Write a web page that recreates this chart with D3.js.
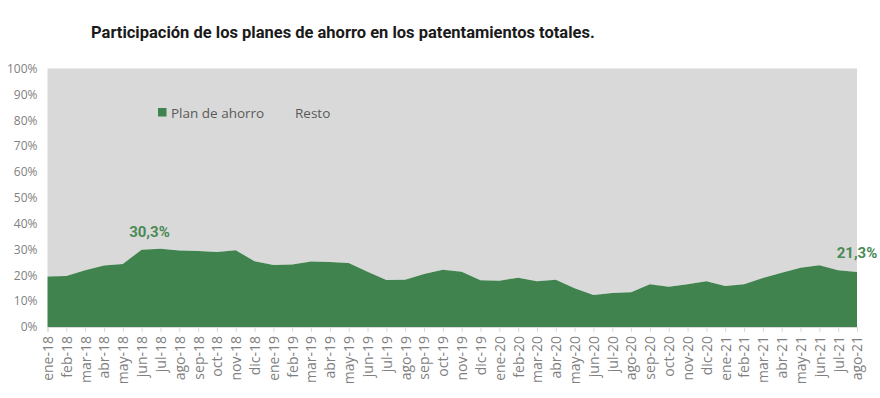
<!DOCTYPE html>
<html>
<head>
<meta charset="utf-8">
<script src="https://cdn.jsdelivr.net/npm/d3@7"></script>
<style>
  html, body { margin: 0; padding: 0; background: #ffffff; }
  svg { display: block; }
</style>
</head>
<body>
<svg id="chart" width="880" height="398"></svg>
<script>
const title = "Participación de los planes de ahorro en los patentamientos totales.";
const months = ["ene-18","feb-18","mar-18","abr-18","may-18","jun-18","jul-18","ago-18","sep-18","oct-18","nov-18","dic-18",
  "ene-19","feb-19","mar-19","abr-19","may-19","jun-19","jul-19","ago-19","sep-19","oct-19","nov-19","dic-19",
  "ene-20","feb-20","mar-20","abr-20","may-20","jun-20","jul-20","ago-20","sep-20","oct-20","nov-20","dic-20",
  "ene-21","feb-21","mar-21","abr-21","may-21","jun-21","jul-21","ago-21"];
const planAhorro = [19.5, 19.7, 22.0, 23.8, 24.4, 29.9, 30.3, 29.6, 29.4, 29.0, 29.7, 25.4,
  24.0, 24.2, 25.3, 25.1, 24.8, 21.4, 18.2, 18.3, 20.5, 22.1, 21.4, 18.1,
  17.9, 19.1, 17.7, 18.3, 15.0, 12.4, 13.2, 13.4, 16.5, 15.6, 16.5, 17.7,
  15.9, 16.5, 19.0, 21.0, 22.9, 23.9, 22.0, 21.3];
const seriesNames = ["Plan de ahorro", "Resto"];
const yTicks = [0, 10, 20, 30, 40, 50, 60, 70, 80, 90, 100];
const annotations = [
  { month: "jul-18", text: "30,3%", dx: -11, dy: -12 },
  { month: "ago-21", text: "21,3%", dx: 0, dy: -14 }
];

const green = "#41834f";
const grey = "#d9d9d9";
const svg = d3.select("#chart");
const m = { left: 47.5, right: 857, top: 68.5, bottom: 327 };

const x = d3.scalePoint().domain(months).range([m.left, m.right]);
const y = d3.scaleLinear().domain([0, 100]).range([m.bottom, m.top]);

// Title
svg.append("text")
  .attr("x", 91).attr("y", 38)
  .attr("font-family", "Roboto, sans-serif")
  .attr("font-weight", "bold")
  .attr("font-size", "16.5px")
  .attr("fill", "#1a1a1a")
  .text(title);

// Resto (stacked to 100%)
const restoArea = d3.area()
  .x(d => x(d.m)).y0(d => y(d.v)).y1(() => y(100));
const planArea = d3.area()
  .x(d => x(d.m)).y0(y(0)).y1(d => y(d.v));
const data = months.map((mm, i) => ({ m: mm, v: planAhorro[i] }));

svg.append("path").datum(data).attr("d", restoArea).attr("fill", grey);
svg.append("path").datum(data).attr("d", planArea).attr("fill", green);

// Y axis
const yAxis = d3.axisLeft(y).tickValues(yTicks).tickFormat(d => d + "%").tickSize(0).tickPadding(10);
const gy = svg.append("g").attr("transform", `translate(${m.left},0)`).call(yAxis);
gy.select(".domain").remove();
gy.selectAll("text")
  .attr("font-family", "'Open Sans', sans-serif")
  .attr("font-size", "12px")
  .attr("fill", "#7f7f7f");

// X axis
const xAxis = d3.axisBottom(x).tickSize(5).tickPadding(6);
const gx = svg.append("g").attr("transform", `translate(0,${m.bottom})`).call(xAxis);
gx.select(".domain").attr("stroke", "#d9d9d9");
gx.selectAll(".tick line").attr("stroke", "#d9d9d9");
gx.selectAll("text")
  .attr("font-family", "'Open Sans', sans-serif")
  .attr("font-size", "14px")
  .attr("fill", "#7f7f7f")
  .attr("text-anchor", "end")
  .attr("transform", "rotate(-90)")
  .attr("x", -9).attr("y", 0).attr("dy", "0.35em");

// Legend
const leg = svg.append("g");
leg.append("rect").attr("x", 158).attr("y", 108).attr("width", 8.5).attr("height", 8.5).attr("fill", green);
leg.append("text").attr("x", 171).attr("y", 117.5)
  .attr("font-family", "'Open Sans', sans-serif").attr("font-size", "13.5px").attr("fill", "#595959")
  .text(seriesNames[0]);
leg.append("text").attr("x", 295).attr("y", 117.5)
  .attr("font-family", "'Open Sans', sans-serif").attr("font-size", "13.5px").attr("fill", "#595959")
  .text(seriesNames[1]);

// Annotations
annotations.forEach(a => {
  const i = months.indexOf(a.month);
  svg.append("text")
    .attr("x", x(a.month) + a.dx)
    .attr("y", y(planAhorro[i]) + a.dy)
    .attr("text-anchor", "middle")
    .attr("font-family", "Roboto, sans-serif")
    .attr("font-weight", "bold")
    .attr("font-size", "15px")
    .attr("fill", "#4a8a55")
    .text(a.text);
});
</script>
</body>
</html>
